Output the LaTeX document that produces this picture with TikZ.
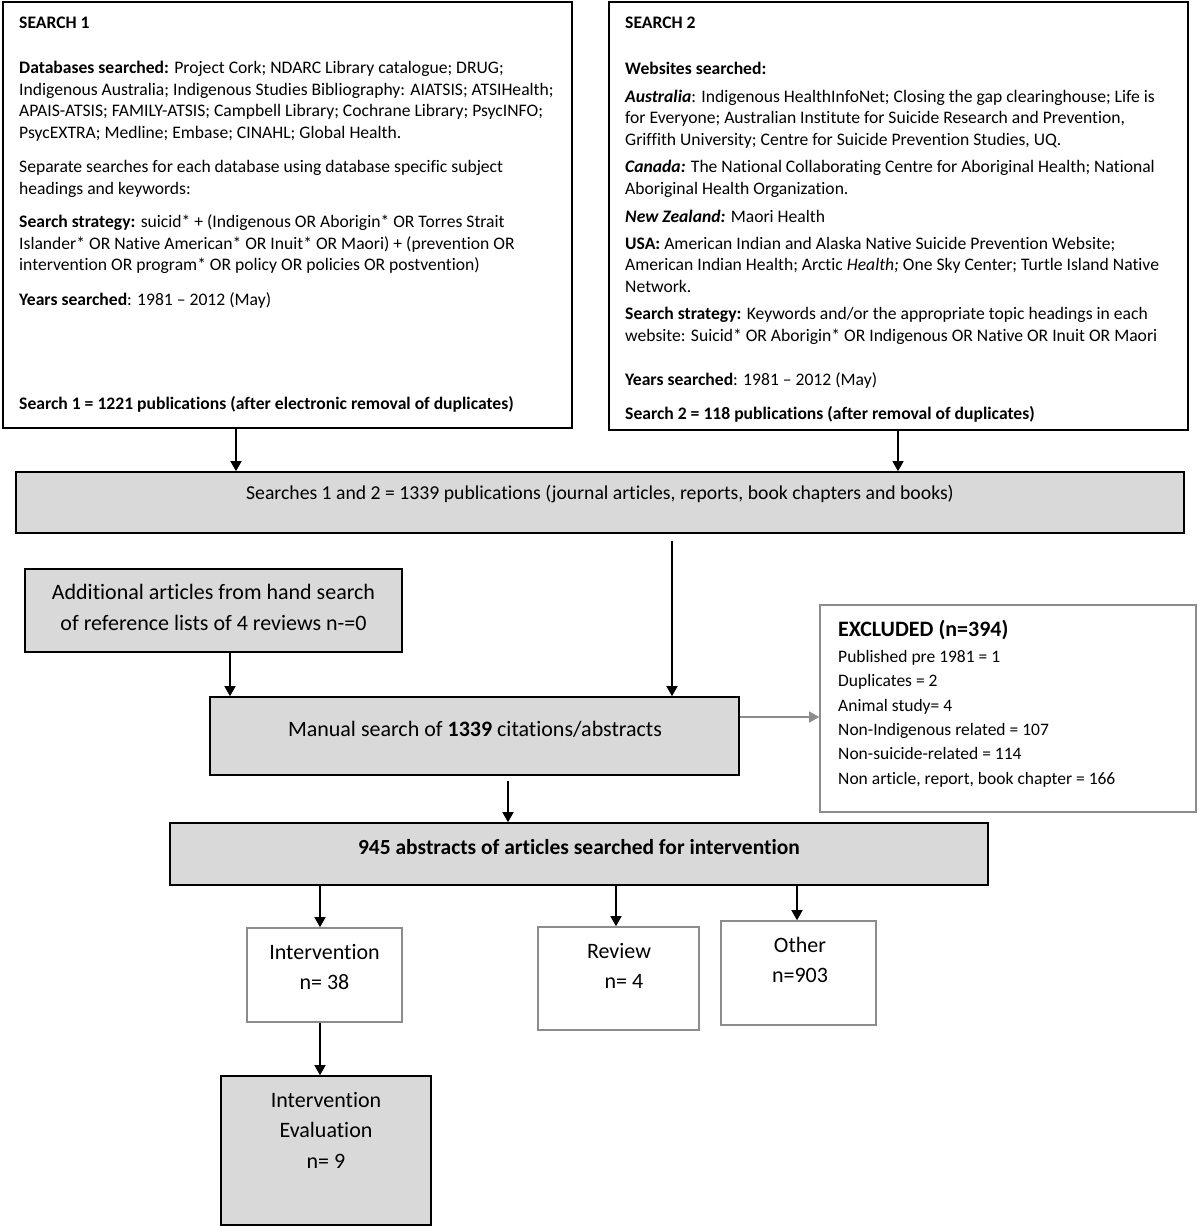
\documentclass[tikz,border=0pt]{standalone}
\usepackage{fontspec}
\setmainfont{Carlito}[Ligatures={TeX,NoCommon}]
\usetikzlibrary{arrows.meta}
\definecolor{boxgray}{HTML}{D9D9D9}
\definecolor{linegray}{HTML}{8C8C8C}
\tikzset{
  blackbox/.style={draw=black, line width=1.6pt, inner sep=0pt},
  graybox/.style={blackbox, fill=boxgray},
  lightbox/.style={draw=linegray, line width=1.6pt, inner sep=0pt, fill=white},
  arr/.style={draw=black, line width=1.3pt, -{Triangle[length=10pt,width=11pt]}},
  grayarr/.style={draw=linegray, line width=1.3pt, -{Triangle[length=10pt,width=11pt]}},
  smalltxt/.style={inner sep=0pt, align=left, anchor=base west, font=\fontsize{17.6}{21.5}\selectfont},
  bigtxt/.style={inner sep=0pt, align=center, font=\fontsize{22}{31}\selectfont},
}
\begin{document}
\begin{tikzpicture}[x=1pt,y=-1pt]
\useasboundingbox (0,0) rectangle (1200,1227);
% ---- boxes
\node[blackbox, minimum width=569, minimum height=426] (s1) at (287.5,215) {};
\node[blackbox, minimum width=579, minimum height=428] (s2) at (898.5,216) {};
\node[graybox, minimum width=1168, minimum height=61] (comb) at (600,502.5) {};
\node[graybox, minimum width=377, minimum height=83] (add) at (213.5,610.5) {};
\node[graybox, minimum width=529, minimum height=78] (man) at (474.5,736) {};
\node[lightbox, minimum width=376, minimum height=207] (exc) at (1008,708.5) {};
\node[graybox, minimum width=818, minimum height=62] (abs) at (579,854) {};
\node[lightbox, minimum width=155, minimum height=94] (int) at (324.5,975) {};
\node[lightbox, minimum width=161, minimum height=103] (rev) at (618.5,978.5) {};
\node[lightbox, minimum width=155, minimum height=104] (oth) at (798.5,973) {};
\node[graybox, minimum width=210, minimum height=149] (ev) at (326,1150.5) {};
% ---- search 1 text (anchor = baseline of the last line)
\node[smalltxt] (s1a) at (19,28) {\textbf{SEARCH 1}};
\node[smalltxt] (s1b) at (19,138) {\textbf{Databases searched:} Project Cork; NDARC Library catalogue; DRUG;\\Indigenous Australia; Indigenous Studies Bibliography: AIATSIS; ATSIHealth;\\APAIS-ATSIS; FAMILY-ATSIS; Campbell Library; Cochrane Library; PsycINFO;\\PsycEXTRA; Medline; Embase; CINAHL; Global Health.};
\node[smalltxt] (s1c) at (19,194) {Separate searches for each database using database specific subject\\headings and keywords:};
\node[smalltxt] (s1d) at (19,270.5) {\textbf{Search strategy:} suicid* + (Indigenous OR Aborigin* OR Torres Strait\\Islander* OR Native American* OR Inuit* OR Maori) + (prevention OR\\intervention OR program* OR policy OR policies OR postvention)};
\node[smalltxt] (s1e) at (19,305) {\textbf{Years searched}: 1981 -- 2012 (May)};
\node[smalltxt] (s1f) at (19,409) {\textbf{Search 1 = 1221 publications (after electronic removal of duplicates)}};
% ---- search 2 text
\node[smalltxt] (s2a) at (625,28) {\textbf{SEARCH 2}};
\node[smalltxt] (s2b) at (625,74) {\textbf{Websites searched:}};
\node[smalltxt] (s2c) at (625,145) {\textbf{\textit{Australia}}: Indigenous HealthInfoNet; Closing the gap clearinghouse; Life is\\for Everyone; Australian Institute for Suicide Research and Prevention,\\Griffith University; Centre for Suicide Prevention Studies, UQ.};
\node[smalltxt] (s2d) at (625,194) {\textbf{\textit{Canada:}} The National Collaborating Centre for Aboriginal Health; National\\Aboriginal Health Organization.};
\node[smalltxt] (s2e) at (625,222) {\textbf{\textit{New Zealand:}} Maori Health};
\node[smalltxt] (s2f) at (625,292) {\textbf{USA:} American Indian and Alaska Native Suicide Prevention Website;\\American Indian Health; Arctic \textit{Health;} One Sky Center; Turtle Island Native\\Network.};
\node[smalltxt] (s2g) at (625,341) {\textbf{Search strategy:} Keywords and/or the appropriate topic headings in each\\website: Suicid* OR Aborigin* OR Indigenous OR Native OR Inuit OR Maori};
\node[smalltxt] (s2h) at (625,385) {\textbf{Years searched}: 1981 -- 2012 (May)};
\node[smalltxt] (s2i) at (625,419) {\textbf{Search 2 = 118 publications (after removal of duplicates)}};
% ---- other texts
\node[inner sep=0pt, font=\fontsize{19.7}{23}\selectfont] (combt) at (600,494) {Searches 1 and 2 = 1339 publications (journal articles, reports, book chapters and books)};
\node[bigtxt] (addt) at (213.5,607) {Additional articles from hand search\\of reference lists of 4 reviews n-=0};
\node[bigtxt] (mant) at (475,729) {Manual search of \textbf{1339} citations/abstracts};
\node[inner sep=0pt, font=\fontsize{21.5}{25}\selectfont\bfseries] (abst) at (579,847) {945 abstracts of articles searched for intervention};
\node[inner sep=0pt, anchor=base west, font=\fontsize{22}{26}\selectfont\bfseries] (exct) at (838,636) {EXCLUDED (n=394)};
\node[smalltxt, font=\fontsize{17.5}{24.3}\selectfont] (excl) at (838,784) {Published pre 1981 = 1\\Duplicates = 2\\Animal study= 4\\Non-Indigenous related = 107\\Non-suicide-related = 114\\Non article, report, book chapter = 166};
\node[bigtxt, font=\fontsize{22}{30.5}\selectfont] (intt) at (324.5,967) {Intervention\\n= 38};
\node[bigtxt, font=\fontsize{22}{30.5}\selectfont] (revt) at (619,966) {Review\\\hspace*{10pt}n= 4};
\node[bigtxt, font=\fontsize{22}{30.5}\selectfont] (otht) at (800,960) {Other\\n=903};
\node[bigtxt, font=\fontsize{22}{30.5}\selectfont] (evt) at (326,1130) {Intervention\\Evaluation\\n= 9};
% ---- connectors
\draw[arr] (s1.south -| 236,0) -- (comb.north -| 236,0);
\draw[arr] (s2.south -| 898,0) -- (comb.north -| 898,0);
\draw[arr] ([yshift=-7pt]comb.south -| 672,0) -- (man.north -| 672,0);
\draw[arr] (add.south -| 230,0) -- (man.north -| 230,0);
\draw[grayarr] (man.east |- 0,717) -- (exc.west |- 0,717);
\draw[arr] ([yshift=-5pt]man.south -| 508,0) -- (abs.north -| 508,0);
\draw[arr] (abs.south -| 320,0) -- (int.north -| 320,0);
\draw[arr] (abs.south -| 616,0) -- (rev.north -| 616,0);
\draw[arr] (abs.south -| 797,0) -- (oth.north -| 797,0);
\draw[arr] (int.south -| 320,0) -- (ev.north -| 320,0);
\end{tikzpicture}
\end{document}
